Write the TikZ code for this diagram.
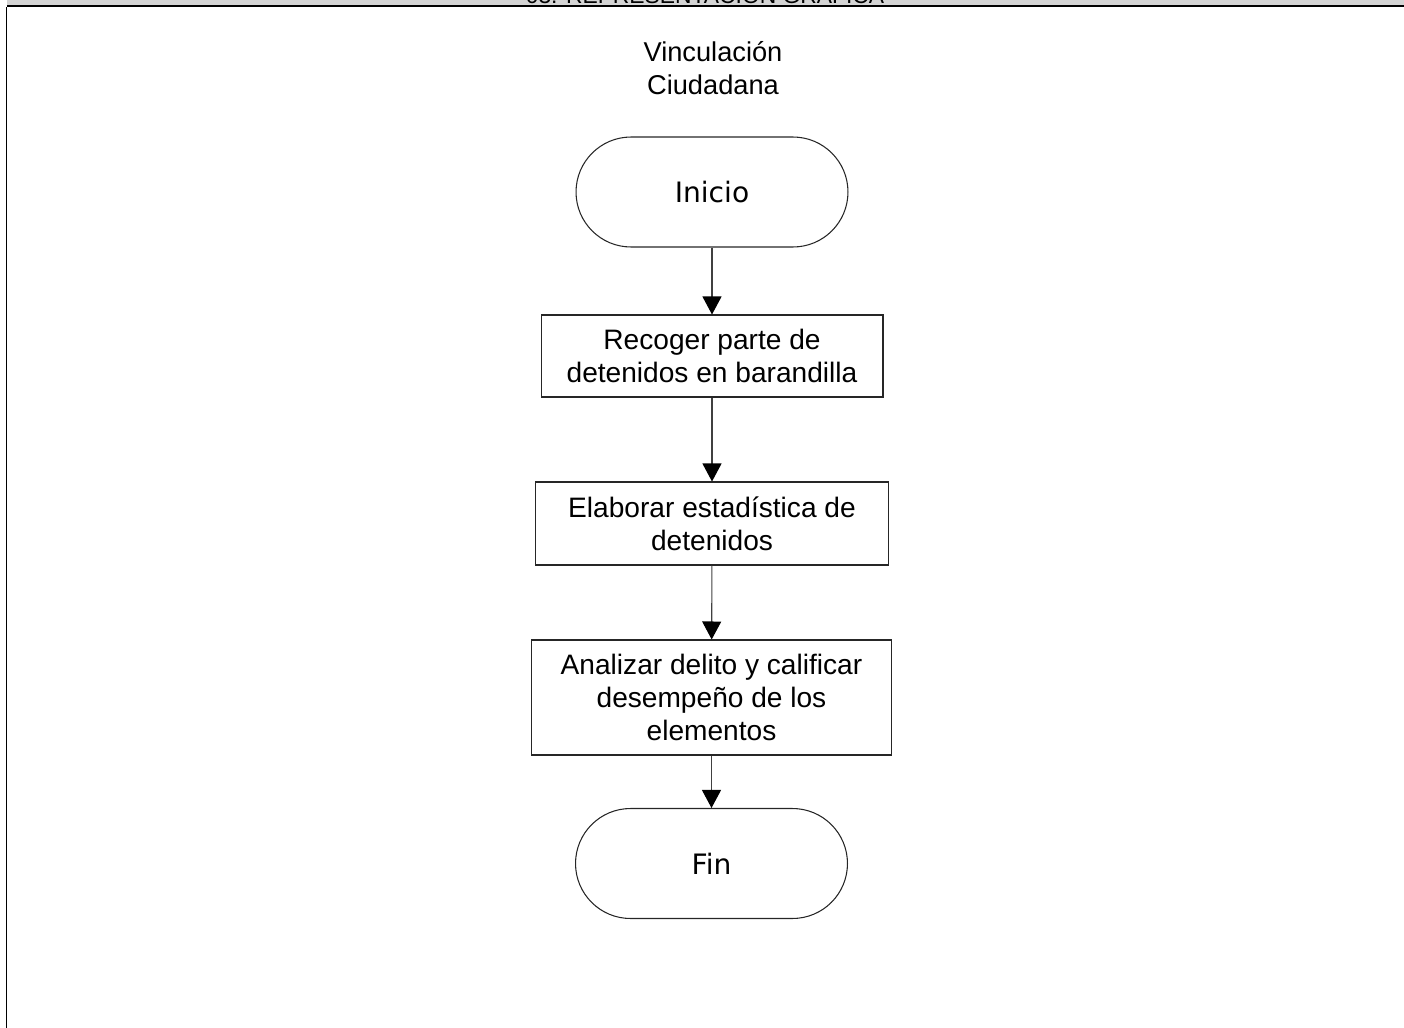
\documentclass[tikz,border=0pt]{standalone}
\usepackage{fontspec}
\setmainfont{Liberation Sans}
\newfontfamily\termfont{DejaVu Sans}
\usepackage{tikz}
\usetikzlibrary{arrows.meta, positioning}
\tikzset{
    fcterminal/.style={rectangle, rounded corners=1.1cm, draw=black!85, line width=0.6pt, minimum width=5.44cm, minimum height=2.2cm, inner sep=0pt, font=\termfont\fontsize{16}{19}\selectfont},
    fcprocess/.style={rectangle, draw=black!85, line width=0.6pt, minimum width=6.84cm, minimum height=1.64cm, inner sep=0pt, align=center, font=\fontsize{16}{18.7}\selectfont},
    fcarrow/.style={-{Triangle[length=0.36cm,width=0.38cm,color=black]}, line width=0.6pt, draw=black!75}
}
\begin{document}
\begin{tikzpicture}[x=0.02cm, y=-0.02cm]
    \useasboundingbox (0,0) rectangle (1404,1028);

    % Header band
    \fill[black!17] (7,0) rectangle (1404,5);
    \begin{scope}
        \clip (7,0) rectangle (1404,5);
        \node[anchor=base, inner sep=0pt, font=\fontsize{13}{15}\selectfont] (hdr) at (705,3.5) {03. REPRESENTACIÓN GRÁFICA};
    \end{scope}
    \draw[line width=1.2pt] (7,6) -- (1404,6);
    \draw[line width=0.9pt] (6.5,7) -- (6.5,1028);

    % Lane title
    \node[align=center, font=\fontsize{15.5}{18.7}\selectfont] (lane) at (713,68) {Vinculación\\Ciudadana};

    % Flow
    \node[fcterminal] (ini) at (712,192) {Inicio};
    \node[fcprocess] (rec) at (712,356) {Recoger parte de\\detenidos en barandilla};
    \node[fcprocess, minimum width=7.06cm, minimum height=1.66cm] (ela) at (712,523.5) {Elaborar estadística de\\detenidos};
    \node[fcprocess, minimum width=7.2cm, minimum height=2.3cm] (ana) at (711.5,697.5) {Analizar delito y calificar\\desempeño de los\\elementos};
    \node[fcterminal] (fin) at (711.5,863.5) {Fin};

    % Connectors
    \draw[fcarrow] (ini) -- (rec);
    \draw[fcarrow] (rec) -- (ela);
    \draw[fcarrow] (ela) -- (ana);
    \draw[fcarrow] (ana) -- (fin);
\end{tikzpicture}
\end{document}
